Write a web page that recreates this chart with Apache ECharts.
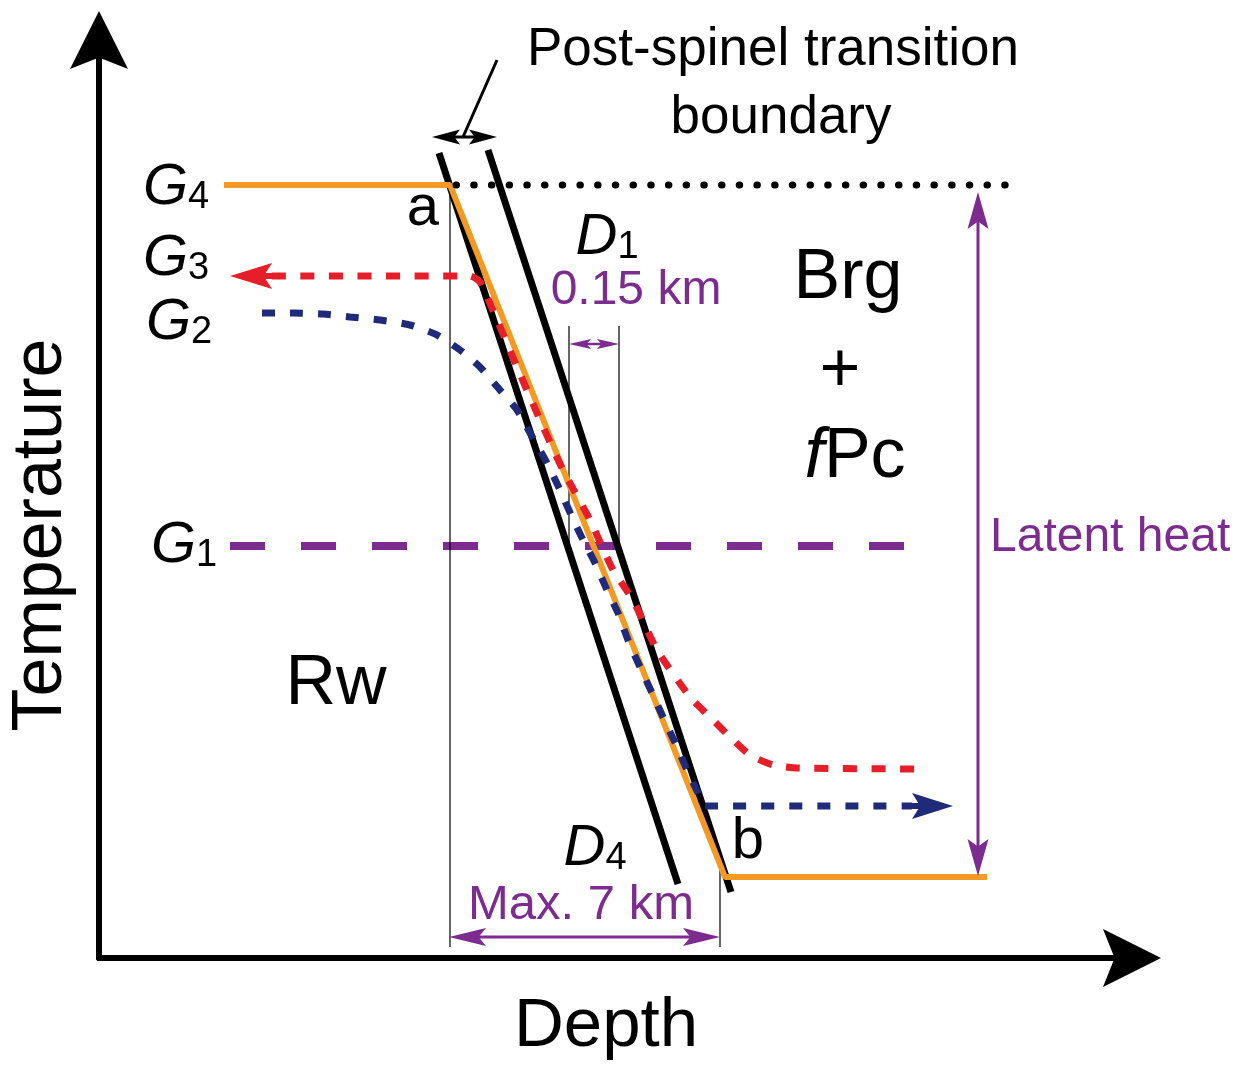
<!DOCTYPE html>
<html>
<head>
<meta charset="utf-8">
<script src="https://cdn.jsdelivr.net/npm/echarts@6/dist/echarts.min.js"></script>
<style>
html, body { margin: 0; padding: 0; background: #fff; }
#chart { width: 1245px; height: 1066px; }
</style>
</head>
<body>
<div id="chart"></div>
<script>
// schematic units (depth, temperature), counted from the axis origin
const orangePath = [[125, 773], [351, 773], [626, 81], [888, 81]];
const boundaryLeft = [[340, 805], [579, 74]];
const boundaryRight = [[389, 808], [632, 66]];
const g4Dots = [[357, 773], [907, 773]];
const g1Path = [[131, 412], [806, 412]];
const g3Path = [
  [173, 682], [371, 682], [381, 676], [396, 643], [418, 591], [441, 538], [464, 488],
  [491, 438], [514, 388], [534, 358], [558, 308], [591, 261], [611, 241], [631, 221],
  [651, 203], [674, 193], [698, 190], [821, 189]
];
const g2Path = [
  [163, 645], [194, 645], [224, 644], [251, 641], [281, 638], [311, 633], [338, 623],
  [361, 608], [381, 591], [401, 568], [418, 548], [431, 525], [448, 495], [461, 468],
  [473, 441], [484, 418], [496, 395], [508, 368], [519, 345], [529, 318], [541, 291],
  [553, 265], [564, 241], [578, 211], [588, 188], [599, 165], [605, 152], [813, 152]
];
const guideA = [[351, 773], [351, 11]];
const guideB = [[621, 95], [621, 11]];
const guideD1a = [[470, 632], [470, 413]];
const guideD1b = [[520, 632], [520, 412]];
const leaderLine = [[398, 898], [364, 821]];
const g3Arrow = [[173, 682], [131, 682]];
const g2Arrow = [[813, 152], [854, 152]];
const latentArrow = [[879, 82], [879, 766]];
const maxWidthArrow = [[350, 21], [621, 21]];
const d1Arrow = [[470, 614], [520, 614]];
const boundaryArrow = [[333, 821], [398, 821]];

const ORANGE = '#F29A23', RED = '#E61E2A', NAVY = '#1F2A78', PURPLE = '#7B2C8E';
const FONT = "'Liberation Sans', Arial, Helvetica, sans-serif";
const HEAD = 'path://M50,0 L100,100 L50,80 L0,100 Z';

function lineSeries(data, color, width, type, extra) {
  return Object.assign({
    type: 'line', data: data, symbol: 'none', silent: true,
    lineStyle: { color: color, width: width, type: type || 'solid' }
  }, extra || {});
}

// arrow = shaft (line) + heads (scatter), heads sit with their tip on the end point
const shafts = [];
const heads = [];
function addArrow(pts, ends, len, wid, color, width) {
  const a = pts[0].slice(), b = pts[1].slice();
  const dx = b[0] - a[0], dy = b[1] - a[1];
  const n = Math.sqrt(dx * dx + dy * dy);
  const ux = dx / n, uy = dy / n;
  function head(tip, sx, sy) {
    const rot = Math.atan2(-sx, sy) * 180 / Math.PI;
    heads.push({
      value: [tip[0] - sx * len / 2, tip[1] - sy * len / 2],
      symbol: HEAD, symbolSize: [wid, len], symbolRotate: rot,
      itemStyle: { color: color, opacity: 1 }
    });
  }
  const s = a.slice(), e = b.slice();
  if (ends === 'end' || ends === 'both') { head(b, ux, uy); e[0] -= ux * len / 2; e[1] -= uy * len / 2; }
  if (ends === 'both') { head(a, -ux, -uy); s[0] += ux * len / 2; s[1] += uy * len / 2; }
  shafts.push(lineSeries([s, e], color, width));
}
addArrow(g3Arrow, 'end', 42, 26, RED, 6);
addArrow(g2Arrow, 'end', 41, 26, NAVY, 6);
addArrow(latentArrow, 'both', 37, 21, PURPLE, 3);
addArrow(maxWidthArrow, 'both', 37, 18, PURPLE, 3);
addArrow(d1Arrow, 'both', 22, 10, PURPLE, 2.5);
addArrow(boundaryArrow, 'both', 28, 15, '#000', 3);

function txt(at, text, size, color, extra) {
  return {
    value: at,
    label: Object.assign({
      show: true, position: 'inside', formatter: text, fontSize: size,
      color: color || '#000', fontFamily: FONT, align: 'center', verticalAlign: 'middle'
    }, extra || {})
  };
}
function subLabel(letter, sub) {
  return {
    formatter: '{i|' + letter + '}{s|' + sub + '}',
    rich: {
      i: { fontSize: 58, fontStyle: 'italic', fontFamily: FONT, color: '#000', lineHeight: 60, verticalAlign: 'bottom' },
      s: { fontSize: 38, fontFamily: FONT, color: '#000', lineHeight: 60, verticalAlign: 'bottom' }
    }
  };
}
const texts = [
  txt([674, 908], 'Post-spinel transition', 53),
  txt([682, 840], 'boundary', 53),
  txt([77, 771], '', 58, null, subLabel('G', '4')),
  txt([77, 700], '', 58, null, subLabel('G', '3')),
  txt([80, 636], '', 58, null, subLabel('G', '2')),
  txt([85, 413], '', 58, null, subLabel('G', '1')),
  txt([508, 721], '', 58, null, subLabel('D', '1')),
  txt([496, 110], '', 58, null, subLabel('D', '4')),
  txt([324, 749], 'a', 58),
  txt([649, 116], 'b', 58),
  txt([537, 667], '0.15 km', 48, PURPLE),
  txt([482, 53], 'Max. 7 km', 49, PURPLE),
  txt([891, 420], 'Latent heat', 48, PURPLE, { align: 'left' }),
  txt([749, 679], 'Brg', 70),
  txt([741, 586], '+', 70),
  txt([756, 500], '', 70, null, {
    formatter: '{i|f}{n|Pc}',
    rich: {
      i: { fontSize: 70, fontStyle: 'italic', fontFamily: FONT, color: '#000' },
      n: { fontSize: 70, fontFamily: FONT, color: '#000' }
    }
  }),
  txt([237, 273], 'Rw', 70),
  txt([-57, 423], 'Temperature', 70, null, { rotate: 90 }),
  txt([507, -69], 'Depth', 69)
];

const chart = echarts.init(document.getElementById('chart'));
const hiddenAxis = {
  type: 'value', min: 0,
  axisTick: { show: false }, axisLabel: { show: false }, splitLine: { show: false },
  axisLine: {
    show: true, symbol: ['none', HEAD], symbolSize: [58, 66],
    lineStyle: { color: '#000', width: 6 }
  }
};
chart.setOption({
  animation: false,
  backgroundColor: '#fff',
  grid: { left: 99, right: 113, top: 40, bottom: 108 },
  xAxis: Object.assign({}, hiddenAxis, { max: 1033 }),
  yAxis: Object.assign({}, hiddenAxis, { max: 918 }),
  series: [
    lineSeries(g1Path, PURPLE, 8, [35, 36]),
    lineSeries(guideA, '#000', 1.2),
    lineSeries(guideB, '#000', 1.2),
    lineSeries(guideD1a, '#000', 1.2),
    lineSeries(guideD1b, '#000', 1.2),
    lineSeries(boundaryLeft, '#000', 7),
    lineSeries(boundaryRight, '#000', 7),
    lineSeries(orangePath, ORANGE, 6),
    lineSeries(g3Path, RED, 7, [14, 14.5], { smooth: 0.2 }),
    lineSeries(g2Path, NAVY, 7, [13, 15], { smooth: 0.2 }),
    lineSeries(g4Dots, '#000', 7, [0.5, 17.2]),
    lineSeries(leaderLine, '#000', 3)
  ].concat(shafts).concat([
    { type: 'scatter', data: heads, silent: true, clip: false, z: 5, itemStyle: { opacity: 1 } },
    {
      type: 'scatter', data: texts, symbolSize: 1, silent: true, clip: false, z: 6,
      itemStyle: { color: 'rgba(0,0,0,0)', opacity: 1 }
    }
  ])
});
// round caps turn the short dashes into dots
chart.setOption({ series: [{}, {}, {}, {}, {}, {}, {}, {}, {}, {}, { lineStyle: { cap: 'round' } }] });
</script>
</body>
</html>
